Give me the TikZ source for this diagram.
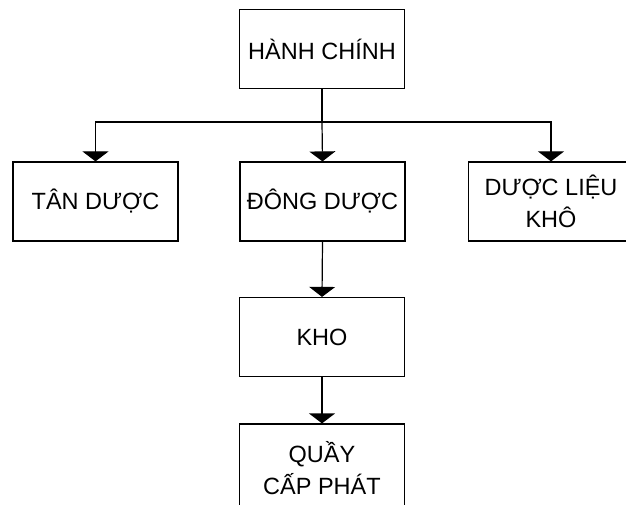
\documentclass[tikz,border=0pt]{standalone}
\usepackage{fontspec}
\setmainfont{Liberation Sans}
\usetikzlibrary{arrows.meta}
\begin{document}
\begin{tikzpicture}[x=1pt,y=-1pt,
  box/.style={draw=black, line width=1.2pt, minimum width=165pt, minimum height=79pt,
    inner sep=0pt, align=center, font=\fontsize{23.5}{32}\selectfont},
  link/.style={line width=1.2pt, -{Triangle[width=26pt,length=10pt]}},
  bus/.style={line width=1.2pt}]
\useasboundingbox (0,0) rectangle (626,505);
\clip (0,0) rectangle (626,505);
\fill[white] (0,0) rectangle (626,505);
\node[box] (hc) at (322,49) {HÀNH CHÍNH};
\node[box] (tan) at (95.5,201.5) {TÂN DƯỢC};
\node[box] (dong) at (322.5,201.5) {ĐÔNG DƯỢC};
\node[box] (lieu) at (551,201.5) {DƯỢC LIỆU\\KHÔ};
\node[box] (kho) at (322,337) {KHO};
\node[box, minimum height=88pt] (quay) at (322,468) {QUẦY\\CẤP PHÁT};
\coordinate (j) at (322,122);
\draw[bus] (hc.south) -- (j);
\draw[link] (j) -| (tan.north);
\draw[link] (j) -| (lieu.north);
\draw[link] (j) -- (dong.north);
\draw[link] (dong.south) -- (kho.north);
\draw[link] (kho.south) -- (quay.north);
\end{tikzpicture}
\end{document}
